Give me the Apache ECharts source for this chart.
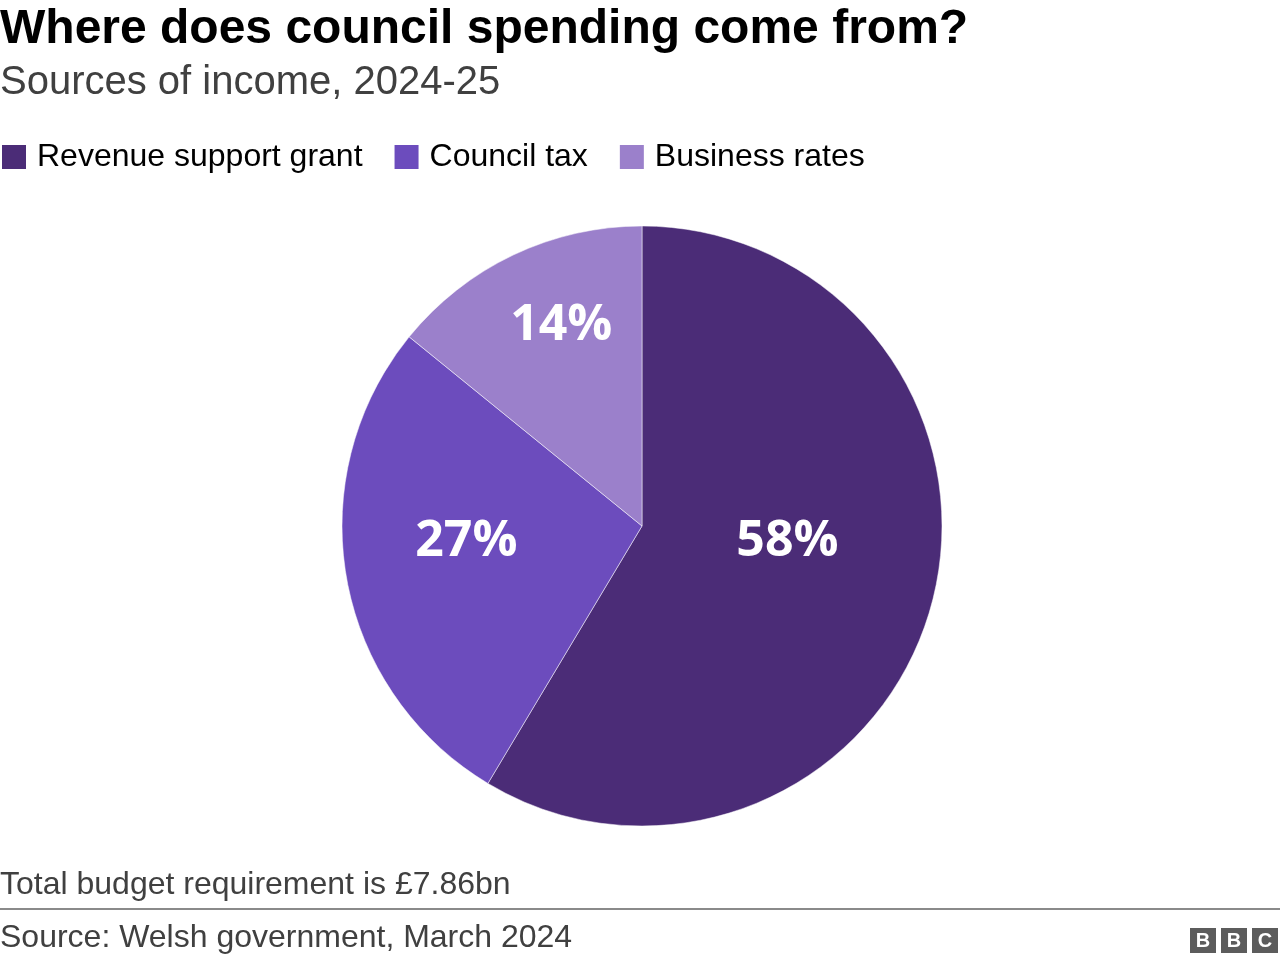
<!DOCTYPE html>
<html>
<head>
<meta charset="utf-8">
<script src="https://cdn.jsdelivr.net/npm/echarts@6/dist/echarts.min.js"></script>
<style>
html,body{margin:0;padding:0;background:#fff;}
#chart{width:1280px;height:964px;}
</style>
</head>
<body>
<div id="chart"></div>
<script>
const categories = ['Revenue support grant', 'Council tax', 'Business rates'];
const values = [58, 27, 14];
const labels = ['58%', '27%', '14%'];

const colors = ['#4b2c77', '#6c4cbd', '#9b80cb'];
const labelOffsets = [[-2, -25], [-25, -11], [-15, -62]];

const chart = echarts.init(document.getElementById('chart'));
const font = '"Liberation Sans", Arial, Helvetica, sans-serif';

chart.setOption({
  animation: false,
  color: colors,
  title: [
    { text: 'Where does council spending come from?', left: 0, top: 6, padding: 0,
      textStyle: { fontFamily: font, fontWeight: 'bold', fontSize: 48, color: '#000' } },
    { text: 'Sources of income, 2024-25', left: 0, top: 63, padding: 0,
      textStyle: { fontFamily: font, fontWeight: 'normal', fontSize: 40, color: '#404040' } }
  ],
  legend: {
    left: 0, top: 141, orient: 'horizontal', padding: 0,
    itemWidth: 26, itemHeight: 26, itemGap: 30, icon: 'rect',
    textStyle: { fontFamily: font, fontSize: 32, color: '#000', padding: [0, 0, 0, 5] },
    data: categories
  },
  series: [{
    type: 'pie',
    center: [642, 526],
    radius: [0, 300],
    startAngle: 90,
    clockwise: true,
    silent: true,
    itemStyle: { borderColor: '#fff', borderWidth: 0.5 },
    label: {
      show: true, position: 'inside',
      fontFamily: '"Open Sans", "Noto Sans", sans-serif', fontWeight: 'bold', fontSize: 50, color: '#fff'
    },
    labelLine: { show: false },
    data: categories.map((c, i) => ({
      name: c, value: values[i],
      label: { formatter: labels[i], offset: labelOffsets[i] }
    }))
  }],
  graphic: [
    { type: 'text', left: 0, top: 869, style: { text: 'Total budget requirement is £7.86bn', font: '32px ' + font, fill: '#404040' } },
    { type: 'rect', shape: { x: 0, y: 908, width: 1280, height: 2 }, style: { fill: '#8a8a8a' } },
    { type: 'text', left: 0, top: 922, style: { text: 'Source: Welsh government, March 2024', font: '32px ' + font, fill: '#404040' } },
    { type: 'group', left: 1190, top: 928, children: [
      { type: 'rect', shape: { x: 0, y: 0, width: 26, height: 25 }, style: { fill: '#5c5c5c' } },
      { type: 'text', style: { x: 13, y: 13, text: 'B', font: 'bold 20px ' + font, fill: '#fff', align: 'center', verticalAlign: 'middle' } },
      { type: 'rect', shape: { x: 31, y: 0, width: 26, height: 25 }, style: { fill: '#5c5c5c' } },
      { type: 'text', style: { x: 44, y: 13, text: 'B', font: 'bold 20px ' + font, fill: '#fff', align: 'center', verticalAlign: 'middle' } },
      { type: 'rect', shape: { x: 62, y: 0, width: 26, height: 25 }, style: { fill: '#5c5c5c' } },
      { type: 'text', style: { x: 75, y: 13, text: 'C', font: 'bold 20px ' + font, fill: '#fff', align: 'center', verticalAlign: 'middle' } }
    ]}
  ]
});
</script>
</body>
</html>
